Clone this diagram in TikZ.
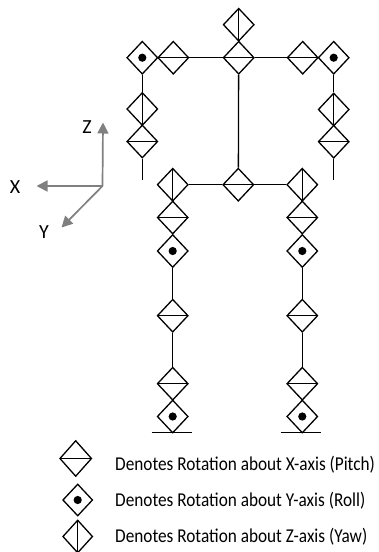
\documentclass[tikz,border=0pt]{standalone}
\usepackage{fontspec}
\setmainfont{Carlito}
\newfontfamily\legendfont[FakeStretch=0.88]{Carlito}
\usetikzlibrary{shapes.geometric,arrows.meta}
\tikzset{
  x=1pt,y=-1pt,
  joint/.style={diamond,draw=black,line width=1.3pt,inner sep=0pt,minimum width=31pt,minimum height=33pt,fill=white},
  pitchj/.style={joint,path picture={\draw[black,line width=1.3pt] (path picture bounding box.west) -- (path picture bounding box.east);}},
  yawj/.style={joint,path picture={\draw[black,line width=1.3pt] (path picture bounding box.north) -- (path picture bounding box.south);}},
  rollj/.style={joint,path picture={\fill[black] (path picture bounding box.center) circle (4.1pt);}},
  link/.style={draw=black,line width=1.3pt},
  axisline/.style={draw=black!50,fill=black!50,line width=1.7pt,-{Triangle[length=11pt,width=11pt]}},
  axislabel/.style={font=\fontsize{20}{20}\selectfont,inner sep=0pt},
  legendtext/.style={font=\legendfont\fontsize{19.6}{20}\selectfont,anchor=west,inner sep=0pt}
}
\begin{document}
\begin{tikzpicture}
\useasboundingbox (0,0) rectangle (378,552);
% upper body
\coordinate (larmend) at (142.3,179.5);
\coordinate (rarmend) at (333.7,180);
\node[yawj] (head) at (238.7,24.7) {};
\node[pitchj] (neck) at (238.7,57.7) {};
\node[pitchj] (lsh) at (173.3,57.7) {};
\node[rollj] (lro) at (142.3,57.7) {};
\node[pitchj] (rsh) at (302.7,57.7) {};
\node[rollj] (rro) at (333.7,57.7) {};
\node[yawj] (lay) at (142.3,109) {};
\node[pitchj] (lap) at (142.3,141.5) {};
\node[yawj] (ray) at (333.7,109.5) {};
\node[pitchj] (rap) at (333.7,141.7) {};
% pelvis and legs
\node[pitchj] (pel) at (238.3,184.7) {};
\node[yawj] (lhy) at (172.7,184.7) {};
\node[yawj] (rhy) at (302.3,184.7) {};
\node[pitchj] (lhp) at (172.7,217.5) {};
\node[pitchj] (rhp) at (302.3,217.5) {};
\node[rollj] (lhr) at (172.7,251) {};
\node[rollj] (rhr) at (302.3,251) {};
\node[pitchj] (lkn) at (172.7,315.7) {};
\node[pitchj] (rkn) at (302.3,315.7) {};
\node[pitchj] (lap2) at (172.7,383.7) {};
\node[pitchj] (rap2) at (302.3,383.7) {};
\node[rollj] (lfr) at (172.7,416.5) {};
\node[rollj] (rfr) at (302.3,416.5) {};
% links
\path[link] (neck) -- (lsh);
\path[link] (neck) -- (rsh);
\path[link] (neck) -- (pel);
\path[link] (lro) -- (lay);
\path[link] (rro) -- (ray);
\path[link] (lap) -- (larmend);
\path[link] (rap) -- (rarmend);
\path[link] (pel) -- (lhy);
\path[link] (pel) -- (rhy);
\path[link] (lhr) -- (lkn);
\path[link] (rhr) -- (rkn);
\path[link] (lkn) -- (lap2);
\path[link] (rkn) -- (rap2);
% ground
\coordinate (lg1) at (151.5,432.5);
\coordinate (lg2) at (192,432.5);
\coordinate (rg1) at (280.5,432.5);
\coordinate (rg2) at (321,432.5);
\path[link] (lg1) -- (lg2);
\path[link] (rg1) -- (rg2);
% axes
\coordinate (o) at (102.5,186);
\coordinate (zt) at (103,122.5);
\coordinate (xt) at (36.5,186);
\coordinate (yt) at (61.5,227.5);
\path[axisline] (o) -- (zt);
\path[axisline] (o) -- (xt);
\path[axisline] (o) -- (yt);
\node[axislabel] (zl) at (87,127) {Z};
\node[axislabel] (xl) at (15,187) {X};
\node[axislabel] (yl) at (44,232) {Y};
% legend
\node[pitchj,minimum width=32pt,minimum height=36pt] (lega) at (75.7,458.5) {};
\node[rollj,minimum width=30pt,minimum height=32pt] (legb) at (77.7,500) {};
\node[yawj,minimum width=30pt,minimum height=33pt] (legc) at (77.7,536.5) {};
\node[legendtext] (ta) at (115,465) {Denotes Rotation about X-axis (Pitch)};
\node[legendtext] (tb) at (115,501) {Denotes Rotation about Y-axis (Roll)};
\node[legendtext] (tc) at (115,537) {Denotes Rotation about Z-axis (Yaw)};
\end{tikzpicture}
\end{document}
